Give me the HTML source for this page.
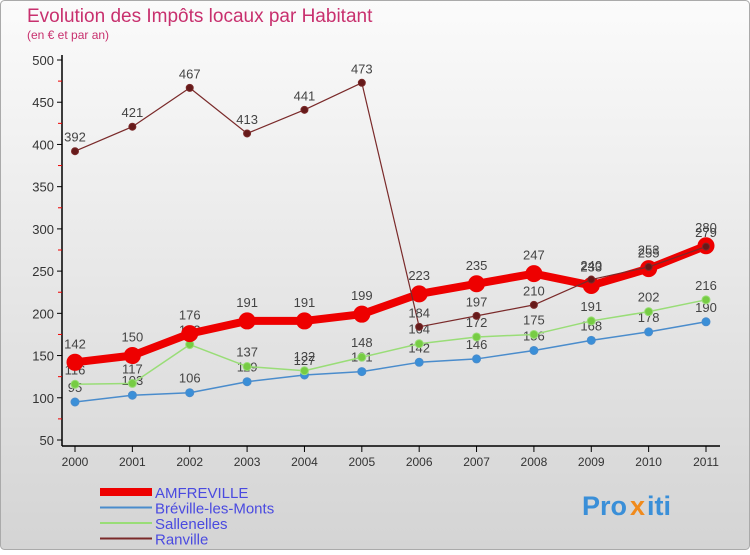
<!DOCTYPE html>
<html><head><meta charset="utf-8"><style>
body{margin:0;width:750px;height:550px;overflow:hidden;font-family:"Liberation Sans",sans-serif}
</style></head><body>
<svg width="750" height="550" xmlns="http://www.w3.org/2000/svg">
<defs><linearGradient id="bg" x1="0" y1="0" x2="0" y2="1"><stop offset="0" stop-color="#fbfbfb"/><stop offset="1" stop-color="#d4d4d4"/></linearGradient></defs>
<rect x="0.5" y="0.5" width="749" height="549" rx="4" fill="url(#bg)" stroke="#aaa"/>
<text x="27" y="22" font-size="19" fill="#c8306e">Evolution des Impôts locaux par Habitant</text>
<text x="27" y="39" font-size="12" fill="#c8306e">(en € et par an)</text>
<g id="axes"></g><g id="series"></g><g id="legend"></g>
<g font-size="27" font-weight="bold">
<text x="582" y="515" fill="#3a8fd8">Pro</text><text x="630" y="515" fill="#f08a1c">x</text><text x="647" y="515" fill="#3a8fd8">iti</text></g>
</svg>
<script>
const years=[2000,2001,2002,2003,2004,2005,2006,2007,2008,2009,2010,2011];
const yTicks=[50,100,150,200,250,300,350,400,450,500];
const amfreville=[142,150,176,191,191,199,223,235,247,233,253,280];
const breville=[95,103,106,119,127,131,142,146,156,168,178,190];
const sallenelles=[116,117,163,137,132,148,164,172,175,191,202,216];
const ranville=[392,421,467,413,441,473,184,197,210,240,255,279];
const NS="http://www.w3.org/2000/svg";
const X=i=>75+i*(706-75)/11;
const Y=v=>60+(500-v)/450*380;
function mk(t,a,p){const e=document.createElementNS(NS,t);for(const k in a)e.setAttribute(k,a[k]);(p||document.getElementById('series')).appendChild(e);return e;}
const ax=document.getElementById('axes');
let l=mk('line',{x1:62,y1:55,x2:62,y2:446,stroke:'#000','stroke-width':1.5},ax);


l=mk('line',{x1:62,y1:446,x2:720,y2:446,stroke:'#000','stroke-width':1.5},ax);


yTicks.forEach(v=>{
 mk('line',{x1:57,y1:Y(v),x2:62,y2:Y(v),stroke:'#000'},ax);
 if(v<500)mk('line',{x1:58,y1:Y(v+25),x2:62,y2:Y(v+25),stroke:'#e00'},ax);
 const t=mk('text',{x:54,y:Y(v)+5,'text-anchor':'end','font-size':13,fill:'#333'},ax);
 t.textContent=v;
 
 
});
years.forEach((yr,i)=>{
 mk('line',{x1:X(i),y1:446,x2:X(i),y2:452,stroke:'#000'},ax);
 const t=mk('text',{x:X(i),y:466,'text-anchor':'middle','font-size':12,fill:'#333'},ax);
 t.textContent=yr;
 
 
});
function series(data,color,w,r,name,dot){
 const g=mk('g',{});
 
 
 mk('polyline',{points:data.map((v,i)=>X(i)+','+Y(v)).join(' '),fill:'none',stroke:color,'stroke-width':w,'stroke-linejoin':'round'},g);
 data.forEach((v,i)=>{
  const c=mk('circle',{cx:X(i),cy:Y(v),r:r,fill:dot,stroke:color,'stroke-width':1},g);
  
  
  const t=mk('text',{x:X(i),y:Y(v)-r-6,'text-anchor':'middle','font-size':13,fill:'#444'},g);
  t.textContent=v;
  
  
 });
}
series(breville,'#4a8ccc',1.5,4,'breville','#3a8fd8');
series(sallenelles,'#99dd77',1.5,4,'sallenelles','#77cc44');
series(amfreville,'#ee0000',8,8,'amfreville','#ee0000');
series(ranville,'#7a2a2a',1.2,3.5,'ranville','#661a1a');
const lg=document.getElementById('legend');
[['AMFREVILLE','#ee0000',8],['Bréville-les-Monts','#4a8ccc',2],['Sallenelles','#99dd77',2],['Ranville','#7a2a2a',2]].forEach((s,i)=>{
 const y=492+i*15.5;
 const g=mk('g',{},lg);
 
 
 mk('line',{x1:100,y1:y,x2:152,y2:y,stroke:s[1],'stroke-width':s[2]},g);
 const t=mk('text',{x:155,y:y+6,'font-size':15,fill:'#4a4ae0'},g);
 t.textContent=s[0];
});
</script>
</body></html>
